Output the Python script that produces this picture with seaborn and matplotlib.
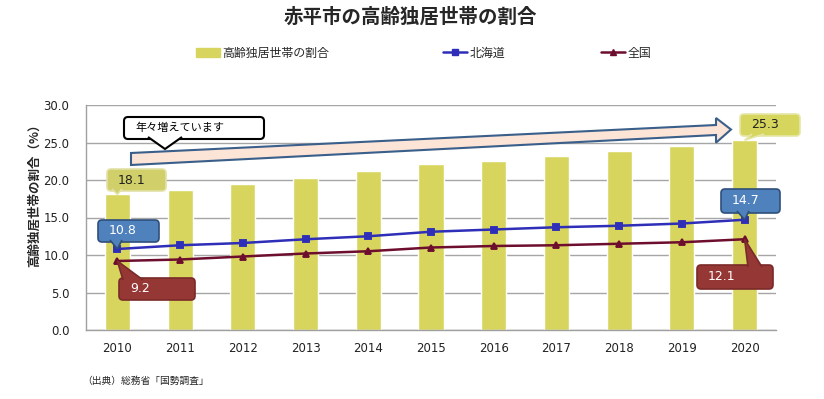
import numpy as np
import pandas as pd
import matplotlib
matplotlib.use("Agg")
import matplotlib.pyplot as plt
import matplotlib.patches as mpatches
import matplotlib.lines as mlines
import seaborn as sns

# data
years = ["2010", "2011", "2012", "2013", "2014", "2015", "2016", "2017", "2018", "2019", "2020"]
akabira = [18.1, 18.7, 19.5, 20.3, 21.2, 22.1, 22.6, 23.2, 23.9, 24.5, 25.3]
hokkaido = [10.8, 11.3, 11.6, 12.1, 12.5, 13.1, 13.4, 13.7, 13.9, 14.2, 14.7]
zenkoku = [9.2, 9.4, 9.8, 10.2, 10.5, 11.0, 11.2, 11.3, 11.5, 11.7, 12.1]

df = pd.DataFrame({"year": years, "akabira": akabira, "hokkaido": hokkaido, "zenkoku": zenkoku})

sns.set_theme(style="white")
plt.rcParams['font.family'] = ['Noto Sans CJK JP', 'DejaVu Sans']

BAR = "#D8D55E"
BLUE = "#2E2EB8"
RED = "#6E0E2E"
W, H = 824, 399

fig = plt.figure(figsize=(8.24, 3.99), dpi=100)
ax = fig.add_axes([86 / W, 1 - 330 / H, 690 / W, 225 / H])

sns.barplot(data=df, x="year", y="akabira", color=BAR, width=0.4, saturation=1, ax=ax)
sns.pointplot(data=df, x="year", y="hokkaido", color=BLUE, markers="s", markersize=5,
              linewidth=1.8, ax=ax)
sns.pointplot(data=df, x="year", y="zenkoku", color=RED, markers="^", markersize=5,
              linewidth=1.8, ax=ax)

ax.set_xlim(-0.5, 10.5)
ax.set_ylim(0, 30)
ax.set_yticks(np.arange(0, 30.1, 5))
ax.set_yticklabels([f"{v:.1f}" for v in np.arange(0, 30.1, 5)], family="DejaVu Sans")
ax.set_xticks(range(len(years)))
ax.set_xticklabels(years, family="DejaVu Sans")
ax.tick_params(axis="y", length=4, width=1, color="#A0A0A0", pad=8, labelsize=8.5, labelcolor="#222222")
ax.tick_params(axis="x", length=0, pad=9, labelsize=8.5, labelcolor="#222222")
ax.set_xlabel("")
ax.set_ylabel("")
ax.yaxis.grid(True, color="#A6A6A6", linewidth=1)
ax.set_axisbelow(True)
for s in ["top", "right"]:
    ax.spines[s].set_visible(False)
for s in ["left", "bottom"]:
    ax.spines[s].set_color("#A0A0A0")
    ax.spines[s].set_linewidth(1)

fig.text(410 / W, 1 - 17.5 / H, "赤平市の高齢独居世帯の割合", ha="center", va="center",
         fontsize=14, fontweight="bold")
fig.text(35 / W, 1 - 192 / H, "高齢独居世帯の割合（%）", rotation=90, ha="center", va="center",
         fontsize=9, fontweight="bold")
fig.text(82 / W, 1 - 381 / H, "（出典）総務省「国勢調査」", ha="left", va="center", fontsize=7)

# legend, one entry at a time to get the uneven spacing
h_bar = mpatches.Patch(color=BAR)
h_blue = mlines.Line2D([], [], color=BLUE, marker="s", markersize=5, linewidth=1.8)
h_red = mlines.Line2D([], [], color=RED, marker="^", markersize=5, linewidth=1.8)
for h, lab, x0 in [(h_bar, "高齢独居世帯の割合", 196), (h_blue, "北海道", 443), (h_red, "全国", 601)]:
    fig.legend([h], [lab], loc="center left", bbox_to_anchor=(x0 / W, 1 - 53 / H), frameon=False,
               fontsize=8.6, handlelength=2.0, handletextpad=0.2, borderpad=0, borderaxespad=0)


def px(x, y):
    return (x, H - y)


def data_px(i, v):
    x, y = ax.transData.transform((i, v))
    return x, H - y


def callout(left, top, w, h, text, fc, ec, tc, tail, tip, fs=9, family="DejaVu Sans", lw=1.2):
    # tail: base x0, x1 on box edge ('top' or 'bottom'), tip in pixels
    (bx0, bx1, side) = tail
    ey = top if side == "top" else top + h
    inset = 2 if side == "top" else -2
    poly = mpatches.Polygon([px(bx0, ey + inset), px(*tip), px(bx1, ey + inset)], closed=False,
                            facecolor=fc, edgecolor=ec, linewidth=lw, transform=None, zorder=6)
    box = mpatches.FancyBboxPatch(px(left, top + h), w, h, boxstyle="round,pad=0,rounding_size=4",
                                  facecolor=fc, edgecolor=ec, linewidth=lw, transform=None, zorder=5)
    fig.add_artist(box)
    fig.add_artist(poly)
    fig.text((left + 11) / W, 1 - (top + h / 2) / H, text, ha="left", va="center",
             fontsize=fs, color=tc, family=family, zorder=7)


# the long block arrow
arrow = mpatches.Polygon([px(131, 165), px(131, 153), px(716, 125), px(716, 118), px(731, 129.5),
                          px(716, 142.7), px(716, 135)], closed=True, facecolor="#FCE4D6",
                         edgecolor="#3A5F8A", linewidth=1.5, transform=None, zorder=4)
fig.add_artist(arrow)

callout(124, 117, 140, 22, "年々増えています", "white", "black", "black",
        (148, 182, "bottom"), (165, 149), fs=8, family="Noto Sans CJK JP", lw=1.5)

callout(107, 169, 59, 22, "18.1", "#D0CF6A", "#E2E2A6", "#222222",
        (112, 122, "bottom"), data_px(0, akabira[0]))
callout(740, 114, 60, 22, "25.3", "#D6D55E", "#E6E6A8", "#222222",
        (752, 764, "bottom"), data_px(10, akabira[10]))
callout(98, 220, 61, 22, "10.8", "#4F81BD", "#2F4F7A", "white",
        (110, 122, "bottom"), data_px(0, hokkaido[0]))
callout(721, 189, 59, 24, "14.7", "#4F81BD", "#2F4F7A", "white",
        (737, 749, "bottom"), data_px(10, hokkaido[10]))
callout(119, 278, 76, 22, "9.2", "#953735", "#7A2A28", "white",
        (123, 143, "top"), data_px(0, zenkoku[0]))
callout(697, 265, 76, 24, "12.1", "#953735", "#7A2A28", "white",
        (748, 762, "top"), data_px(10, zenkoku[10]))

fig.savefig("out.png", dpi=100)
